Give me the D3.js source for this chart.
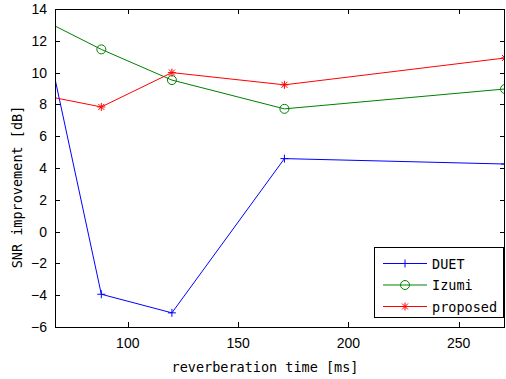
<!DOCTYPE html>
<html>
<head>
<meta charset="utf-8">
<script src="https://cdn.jsdelivr.net/npm/d3@7"></script>
<style>
  body { margin: 0; background: #fff; }
  .tick-label { font-family: "Liberation Sans", Arial, sans-serif; font-size: 14px; fill: #000; }
  .axis-title, .legend-label { font-family: "DejaVu Sans Mono", monospace; font-size: 13.5px; fill: #000; }
</style>
</head>
<body>
<div id="chart"></div>
<script>
// reverberation times [ms]; first point sits just left of the visible axis
const reverbTimes = [65, 88, 120, 171, 271];
const seriesNames = ['DUET', 'Izumi', 'proposed'];
const duetValues = [10.9, -3.94, -5.11, 4.59, 4.25];
const izumiValues = [13.07, 11.46, 9.53, 7.72, 8.97];
const proposedValues = [8.47, 7.84, 10.0, 9.23, 10.92];
const xTicks = [100, 150, 200, 250];
const yTicks = [-6, -4, -2, 0, 2, 4, 6, 8, 10, 12, 14];

const width = 506, height = 379;
const margin = { left: 55, top: 9, right: 1, bottom: 52 };

const series = [
  { name: seriesNames[0], values: duetValues, color: '#0000ff', marker: 'plus' },
  { name: seriesNames[1], values: izumiValues, color: '#008000', marker: 'circle' },
  { name: seriesNames[2], values: proposedValues, color: '#ff0000', marker: 'star' }
];

const svg = d3.select('#chart')
  .append('svg')
  .attr('width', width)
  .attr('height', height);

const x = d3.scaleLinear()
  .domain([67, 271])
  .range([margin.left, width - margin.right]);

const y = d3.scaleLinear()
  .domain([-6, 14])
  .range([height - margin.bottom, margin.top]);

const x0 = x.range()[0], x1 = x.range()[1];
const y0 = y.range()[0], y1 = y.range()[1];
const tickLen = 5;

svg.append('clipPath')
  .attr('id', 'plot-clip')
  .append('rect')
  .attr('x', x0).attr('y', y1)
  .attr('width', x1 - x0).attr('height', y0 - y1);

// ticks (inside, on all four sides, MATLAB style)
const axes = svg.append('g').attr('stroke', '#000').attr('stroke-width', 1);
xTicks.forEach(t => {
  const px = Math.round(x(t)) + 0.5;
  axes.append('line').attr('x1', px).attr('x2', px).attr('y1', y0).attr('y2', y0 - tickLen);
  axes.append('line').attr('x1', px).attr('x2', px).attr('y1', y1).attr('y2', y1 + tickLen);
});
yTicks.forEach(t => {
  const py = Math.round(y(t)) + 0.5;
  axes.append('line').attr('x1', x0).attr('x2', x0 + tickLen).attr('y1', py).attr('y2', py);
  axes.append('line').attr('x1', x1).attr('x2', x1 - tickLen).attr('y1', py).attr('y2', py);
});

svg.append('g')
  .selectAll('text')
  .data(xTicks)
  .enter().append('text')
  .attr('class', 'tick-label')
  .attr('x', d => x(d))
  .attr('y', y0 + 21)
  .attr('text-anchor', 'middle')
  .text(d => d);

svg.append('g')
  .selectAll('text')
  .data(yTicks)
  .enter().append('text')
  .attr('class', 'tick-label')
  .attr('x', x0 - 8)
  .attr('y', d => y(d) + 5)
  .attr('text-anchor', 'end')
  .text(d => d < 0 ? '\u2212' + Math.abs(d) : d);

// lines and markers
const line = d3.line()
  .x((d, i) => x(reverbTimes[i]))
  .y(d => y(d));

function drawMarker(g, type, cx, cy, color) {
  const s = 4;
  if (type === 'circle') {
    g.append('circle').attr('cx', cx).attr('cy', cy).attr('r', 4.5)
      .attr('fill', 'none').attr('stroke', color);
  } else {
    g.append('path')
      .attr('d', `M${cx - s},${cy}H${cx + s}M${cx},${cy - s}V${cy + s}`)
      .attr('stroke', color);
    if (type === 'star') {
      g.append('path')
        .attr('d', `M${cx - 3},${cy - 3}L${cx + 3},${cy + 3}M${cx - 3},${cy + 3}L${cx + 3},${cy - 3}`)
        .attr('stroke', color);
    }
  }
}

const plot = svg.append('g').attr('clip-path', 'url(#plot-clip)');
series.forEach(s => {
  plot.append('path')
    .datum(s.values)
    .attr('fill', 'none')
    .attr('stroke', s.color)
    .attr('stroke-width', 1)
    .attr('d', line);
  const mg = plot.append('g').attr('stroke-width', 1);
  s.values.forEach((v, i) => drawMarker(mg, s.marker, x(reverbTimes[i]), y(v), s.color));
});

// axes box
svg.append('rect')
  .attr('x', x0 + 0.5)
  .attr('y', y1 + 0.5)
  .attr('width', x1 - x0 - 1)
  .attr('height', y0 - y1)
  .attr('fill', 'none')
  .attr('stroke', '#000');

// axis titles
svg.append('text')
  .attr('class', 'axis-title')
  .attr('x', 265)
  .attr('y', 372)
  .attr('text-anchor', 'middle')
  .text('reverberation time [ms]');

svg.append('text')
  .attr('class', 'axis-title')
  .attr('transform', 'translate(22,187) rotate(-90)')
  .attr('text-anchor', 'middle')
  .text('SNR improvement [dB]');

// legend
const legend = svg.append('g').attr('transform', 'translate(374,247)');
legend.append('rect')
  .attr('x', 0.5).attr('y', 0.5)
  .attr('width', 129).attr('height', 70)
  .attr('fill', '#fff')
  .attr('stroke', '#000');

series.forEach((s, i) => {
  const ly = 16.5 + i * 21.5;
  legend.append('line')
    .attr('x1', 9).attr('x2', 53)
    .attr('y1', ly).attr('y2', ly)
    .attr('stroke', s.color);
  drawMarker(legend, s.marker, 31, ly, s.color);
  legend.append('text')
    .attr('class', 'legend-label')
    .attr('x', 58)
    .attr('y', ly + 5)
    .text(s.name);
});
</script>
</body>
</html>
